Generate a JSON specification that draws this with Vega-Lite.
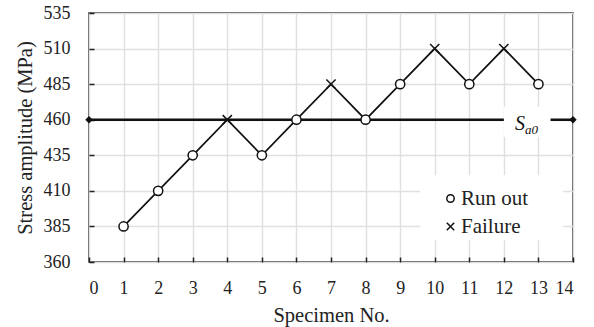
{
  "$schema": "https://vega.github.io/schema/vega-lite/v6.json",
  "width": 484,
  "height": 249,
  "autosize": "none",
  "padding": {"left": 89, "top": 13, "right": 21, "bottom": 65},
  "config": {
    "font": "Liberation Serif",
    "view": {"stroke": "#222", "strokeWidth": 1.5},
    "legend": {"labelFont": "Liberation Serif", "titleFont": "Liberation Serif"},
    "text": {"font": "Liberation Serif"},
    "axis": {
      "grid": true,
      "gridColor": "#e0e0e0",
      "gridWidth": 1.5,
      "domain": false,
      "tickSize": -5,
      "tickColor": "#222",
      "tickWidth": 1.5,
      "labelFontSize": 18,
      "labelColor": "#222",
      "labelOverlap": false,
      "titleFontSize": 20.5,
      "titleFontWeight": "normal",
      "titleColor": "#222",
      "labelFont": "Liberation Serif",
      "titleFont": "Liberation Serif"
    }
  },
  "datasets": {
    "tests": [
      {"specimen": 1, "stress": 385, "result": "Run out"},
      {"specimen": 2, "stress": 410, "result": "Run out"},
      {"specimen": 3, "stress": 435, "result": "Run out"},
      {"specimen": 4, "stress": 460, "result": "Failure"},
      {"specimen": 5, "stress": 435, "result": "Run out"},
      {"specimen": 6, "stress": 460, "result": "Run out"},
      {"specimen": 7, "stress": 485, "result": "Failure"},
      {"specimen": 8, "stress": 460, "result": "Run out"},
      {"specimen": 9, "stress": 485, "result": "Run out"},
      {"specimen": 10, "stress": 510, "result": "Failure"},
      {"specimen": 11, "stress": 485, "result": "Run out"},
      {"specimen": 12, "stress": 510, "result": "Failure"},
      {"specimen": 13, "stress": 485, "result": "Run out"}
    ],
    "sa0": [
      {"specimen": 0, "stress": 460},
      {"specimen": 14, "stress": 460}
    ]
  },
  "encoding": {
    "x": {
      "field": "specimen", "type": "quantitative",
      "scale": {"domain": [0, 14], "nice": false},
      "axis": {
        "title": "Specimen No.",
        "values": [0,1,2,3,4,5,6,7,8,9,10,11,12,13,14],
        "labelPadding": 31,
        "labelBaseline": "middle",
        "titleY": 59,
        "titleBaseline": "alphabetic"
      }
    },
    "y": {
      "field": "stress", "type": "quantitative",
      "scale": {"domain": [360, 535], "nice": false, "zero": false},
      "axis": {
        "title": "Stress amplitude (MPa)",
        "values": [360,385,410,435,460,485,510,535],
        "labelPadding": 24,
        "titleX": -64,
        "titleY": 124.5,
        "titleAngle": -90,
        "titleAlign": "center",
        "titleBaseline": "middle"
      }
    }
  },
  "layer": [
    {
      "data": {"name": "sa0"},
      "mark": {"type": "line", "color": "#111", "strokeWidth": 2.6}
    },
    {
      "data": {"name": "sa0"},
      "transform": [{"filter": "datum.specimen == 14"}],
      "mark": {"type": "rect", "fill": "white"},
      "encoding": {
        "x": {"datum": 12, "type": "quantitative", "scale": {"domain": [0, 14], "nice": false}, "axis": {"title": "Specimen No.", "values": [0,1,2,3,4,5,6,7,8,9,10,11,12,13,14], "labelPadding": 31, "labelBaseline": "middle", "titleY": 59, "titleBaseline": "alphabetic"}},
        "x2": {"datum": 13.35},
        "y": {"datum": 469, "type": "quantitative", "scale": {"domain": [360, 535], "nice": false, "zero": false}, "axis": {"title": "Stress amplitude (MPa)", "values": [360,385,410,435,460,485,510,535], "labelPadding": 24, "titleX": -64, "titleY": 124.5, "titleAngle": -90, "titleAlign": "center", "titleBaseline": "middle"}},
        "y2": {"datum": 448}
      }
    },
    {
      "data": {"name": "sa0"},
      "transform": [{"filter": "datum.specimen == 14"}],
      "mark": {"type": "text", "text": "S", "fontStyle": "italic", "fontSize": 20, "align": "right", "baseline": "alphabetic", "dx": -48, "dy": 10, "color": "#111", "font": "Liberation Serif"}
    },
    {
      "data": {"name": "sa0"},
      "transform": [{"filter": "datum.specimen == 14"}],
      "mark": {"type": "text", "text": "a0", "fontStyle": "italic", "fontSize": 13, "align": "left", "baseline": "alphabetic", "dx": -48, "dy": 14, "color": "#111", "font": "Liberation Serif"}
    },
    {
      "data": {"name": "sa0"},
      "transform": [{"filter": "datum.specimen == 14"}],
      "mark": {"type": "rect", "fill": "white"},
      "encoding": {
        "x": {"datum": 9.58, "type": "quantitative", "scale": {"domain": [0, 14], "nice": false}, "axis": {"title": "Specimen No.", "values": [0,1,2,3,4,5,6,7,8,9,10,11,12,13,14], "labelPadding": 31, "labelBaseline": "middle", "titleY": 59, "titleBaseline": "alphabetic"}},
        "x2": {"datum": 13.72},
        "y": {"datum": 421, "type": "quantitative", "scale": {"domain": [360, 535], "nice": false, "zero": false}, "axis": {"title": "Stress amplitude (MPa)", "values": [360,385,410,435,460,485,510,535], "labelPadding": 24, "titleX": -64, "titleY": 124.5, "titleAngle": -90, "titleAlign": "center", "titleBaseline": "middle"}},
        "y2": {"datum": 375.3}
      }
    },
    {
      "data": {"name": "tests"},
      "mark": {"type": "line", "color": "#111", "strokeWidth": 1.7}
    },
    {
      "data": {"name": "tests"},
      "mark": {"type": "point", "filled": true, "fill": "white", "stroke": "#111", "strokeWidth": 1.5, "size": 85, "opacity": 1},
      "encoding": {
        "shape": {
          "field": "result", "type": "nominal",
          "scale": {"domain": ["Run out", "Failure"], "range": ["circle", "M-1,-1L1,1M-1,1L1,-1"]},
          "legend": {
            "orient": "none",
            "legendX": 351,
            "legendY": 175,
            "title": null,
            "padding": 0,
            "labelFontSize": 21,
            "labelFont": "Liberation Serif",
            "labelColor": "#222",
            "labelOffset": 0,
            "symbolSize": 55,
            "symbolStrokeWidth": 1.5,
            "rowPadding": 6
          }
        }
      }
    },
    {
      "data": {"name": "sa0"},
      "mark": {"type": "point", "shape": "diamond", "filled": true, "color": "#111", "size": 55, "opacity": 1}
    }
  ]
}
